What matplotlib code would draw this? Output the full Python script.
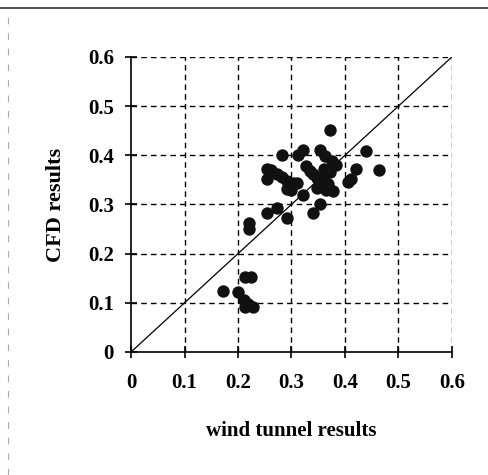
import matplotlib.pyplot as plt
from matplotlib.lines import Line2D

# wind tunnel vs CFD values
wind_tunnel = [0.372, 0.440, 0.421, 0.463, 0.412, 0.405,
               0.282, 0.313, 0.322, 0.354, 0.362, 0.375, 0.384,
               0.254, 0.262, 0.254, 0.273, 0.283, 0.291, 0.291,
               0.303, 0.310, 0.322, 0.328, 0.335, 0.340, 0.347,
               0.347, 0.359, 0.368, 0.378, 0.360, 0.372, 0.355,
               0.365, 0.300, 0.353, 0.340, 0.254, 0.273, 0.291,
               0.220, 0.220, 0.213, 0.225, 0.172, 0.200, 0.211,
               0.213, 0.228, 0.218]
cfd = [0.452, 0.409, 0.372, 0.370, 0.352, 0.345,
       0.401, 0.401, 0.410, 0.410, 0.398, 0.388, 0.381,
       0.372, 0.370, 0.352, 0.362, 0.356, 0.347, 0.331,
       0.344, 0.344, 0.320, 0.378, 0.368, 0.361, 0.334,
       0.354, 0.354, 0.341, 0.327, 0.372, 0.366, 0.340,
       0.330, 0.330, 0.300, 0.283, 0.283, 0.293, 0.272,
       0.262, 0.250, 0.152, 0.152, 0.124, 0.121, 0.106,
       0.092, 0.092, 0.097]
ticks = [0, 0.1, 0.2, 0.3, 0.4, 0.5, 0.6]
tick_labels = ['0', '0.1', '0.2', '0.3', '0.4', '0.5', '0.6']

plt.rcParams['font.family'] = ['Liberation Serif', 'DejaVu Serif']

fig = plt.figure(figsize=(4.89, 4.75), dpi=100)
ax = fig.add_axes([0.268, 0.259, 0.656, 0.621])

# grid: dashed at every tick, also forms top/right frame
for t in ticks[1:]:
    ax.axhline(t, color='black', lw=1.0, ls=(0, (4, 3)), zorder=1)
    ax.axvline(t, color='black', lw=1.0, ls=(0, (4, 3)), zorder=1)

ax.plot([0, 0.6], [0, 0.6], color='black', lw=0.9, zorder=2)
ax.scatter(wind_tunnel, cfd, s=80, color='#111111', zorder=3, linewidths=0)

ax.set_xlim(0, 0.6)
ax.set_ylim(0, 0.6)
ax.set_xticks(ticks)
ax.set_xticklabels(tick_labels)
ax.set_yticks(ticks)
ax.set_yticklabels(tick_labels)
ax.tick_params(direction='inout', length=8.5, width=1.2, labelsize=15)
ax.tick_params(axis='y', pad=8)
ax.tick_params(axis='x', pad=11)
for lab in ax.get_xticklabels() + ax.get_yticklabels():
    lab.set_fontweight('bold')
ax.spines['top'].set_visible(False)
ax.spines['right'].set_visible(False)
ax.spines['left'].set_linewidth(1.2)
ax.spines['bottom'].set_linewidth(1.2)

ax.set_xlabel('wind tunnel results', fontsize=15, fontweight='bold', labelpad=20)
ax.set_ylabel('CFD results', fontsize=16, fontweight='bold', labelpad=16)

# scan border artefacts
fig.add_artist(Line2D([0.0, 1.0], [0.983, 0.983], color='#333333', lw=1.2))
fig.add_artist(Line2D([0.017, 0.017], [0.0, 0.98], color='#aaaaaa', lw=0.8, ls=(0, (6, 8))))

fig.savefig('out.png', dpi=100)
